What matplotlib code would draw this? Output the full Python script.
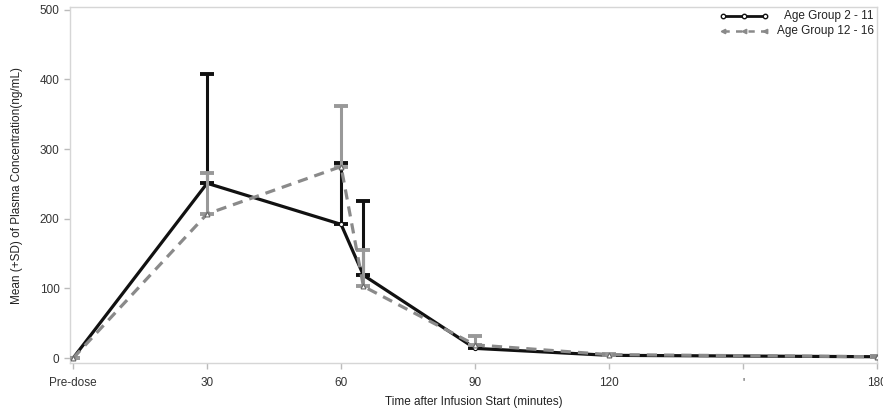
import matplotlib
matplotlib.use("Agg")
import matplotlib.pyplot as plt
from matplotlib.lines import Line2D
import numpy as np

plt.rcParams['font.family'] = ['Liberation Sans', 'DejaVu Sans']

# Data
times = [0, 30, 60, 65, 90, 120, 180]
grp1_mean = [0, 251, 192, 119, 14, 4, 2]
grp1_sd = [0, 157, 88, 106, 3, 1, 1]
grp2_mean = [0, 207, 275, 103, 19, 5, 2]
grp2_sd = [0, 59, 87, 52, 13, 1, 1]
xtick_pos = [0, 30, 60, 90, 120, 150, 180]
xtick_labels = ['Pre-dose', '30', '60', '90', '120', "'", '180']
ytick_pos = [0, 100, 200, 300, 400, 500]
labels = ['Age Group 2 - 11', 'Age Group 12 - 16']

W, H = 883, 412
fig = plt.figure(figsize=(W / 100, H / 100), dpi=100)
ax = fig.add_axes([70/W, 1-363/H, (877-70)/W, (363-7)/H])

black = '#111111'
grey = '#8a8a8a'
dash = (0, (3.2, 2.2))

# Group 1: black solid
ax.errorbar(times, grp1_mean, yerr=[np.zeros(len(times)), grp1_sd], fmt='none',
            ecolor=black, elinewidth=2.2, capsize=5, capthick=2.8, zorder=3)
ax.plot(times, grp1_mean, color=black, lw=2.3, marker='o', ms=3, mfc='white',
        mec=black, mew=0.8, zorder=3)

# Group 2: grey dashed
ax.errorbar(times, grp2_mean, yerr=[np.zeros(len(times)), grp2_sd], fmt='none',
            ecolor='#999999', elinewidth=2.2, capsize=5, capthick=2.8, zorder=4)
ax.plot(times, grp2_mean, color=grey, lw=2.3, ls=dash, marker='^', ms=3.5,
        mfc='white', mec='#666666', mew=0.8, zorder=4)

ax.set_xlim(-0.7, 180)
ax.set_ylim(-7, 504)
ax.set_xticks(xtick_pos)
ax.set_xticklabels(xtick_labels)
ax.set_yticks(ytick_pos)

for s in ax.spines.values():
    s.set_color('#d6d6d6')
    s.set_linewidth(1.0)
ax.tick_params(axis='both', colors='#bbbbbb', labelcolor='#333333', labelsize=8.5,
               length=4, width=1, direction='out')
ax.tick_params(axis='x', pad=6)

ax.set_xlabel('Time after Infusion Start (minutes)', fontsize=8.5, color='#222222', labelpad=5)
ax.set_ylabel('Mean (+SD) of Plasma Concentration(ng/mL)', fontsize=8.5, color='#222222', labelpad=12)

# Legend (right-aligned text, handles to the left)
leg_items = [
    dict(color=black, ls='-', marker='o', mfc='white', mec=black, lw=2.0, ms=3.2),
    dict(color=grey, ls=(0, (2.5, 2.5)), marker='<', mfc=grey, mec=grey, lw=1.8, ms=3.2),
]
for i, (lab, st) in enumerate(zip(labels, leg_items)):
    yp = 1 - (16 + 15 * i) / H
    fig.add_artist(Line2D([723/W, 744/W, 765/W], [yp, yp, yp], transform=fig.transFigure,
                          **st))
    fig.text(874/W, yp, lab, ha='right', va='center', fontsize=8.5, color='#222222')

fig.savefig('out.png', dpi=100)
